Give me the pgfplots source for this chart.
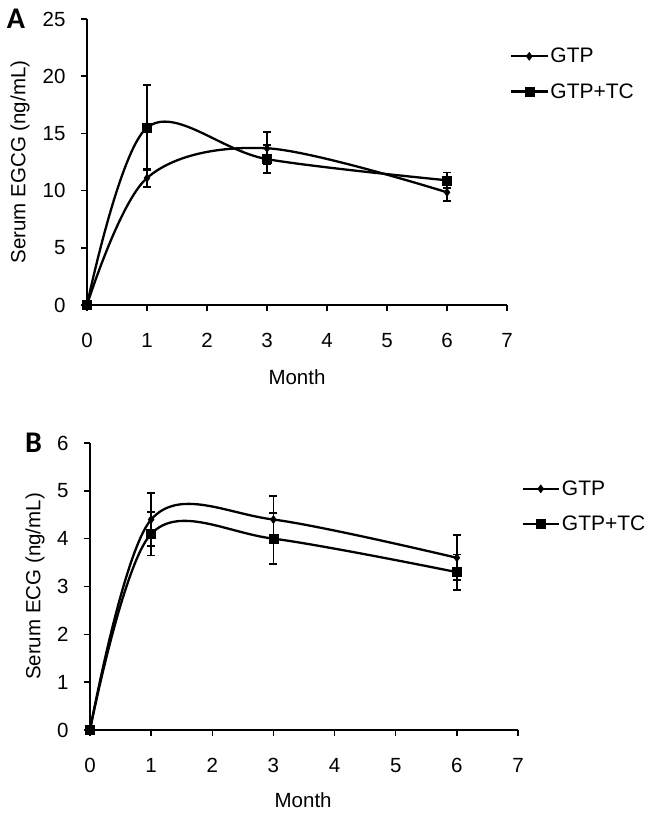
\documentclass[border=0pt]{standalone}
\usepackage{fontspec}
\setmainfont{Liberation Sans}
\newfontfamily\letterfont{Carlito}
\usepackage{pgfplots}
\pgfplotsset{compat=1.18}
\newcommand\lblfont{\fontsize{20.5bp}{24bp}\selectfont}
\begin{document}
\begin{tikzpicture}
\useasboundingbox (0,0) rectangle (653bp,815bp);
\pgfplotsset{
  myaxis/.style={
    scale only axis,
    axis lines*=left,
    axis line style={line width=1.5bp},
    tick style={line width=1.5bp, black},
    major tick length=6bp,
    tick align=outside,
    xmin=0, xmax=7, xtick={0,1,...,7},
    clip=false,
    font=\lblfont,
    label style={font=\lblfont},
    /pgf/number format/assume math mode=true,
    xticklabel={\lblfont\pgfmathprintnumber{\tick}},
    yticklabel={\lblfont\pgfmathprintnumber{\tick}},
    xticklabel style={yshift=-19bp, font=\lblfont},
    yticklabel style={xshift=-12bp, font=\lblfont},
    legend cell align=left,
    legend style={draw=none, fill=none, inner sep=0pt, row sep=15bp,
      nodes={inner sep=2bp},
      font=\fontsize{21bp}{24bp}\selectfont},
    legend image code/.code={
      \draw[mark repeat=2,mark phase=2,#1] plot coordinates {(0bp,0bp)(18bp,0bp)(36bp,0bp)};
    },
  },
  ser/.style={black, line width=2.3bp, smooth, tension=0.55,
      error bars/y dir=both, error bars/y explicit,
      error bars/error bar style={line width=1.8bp, solid},
      error bars/error mark options={rotate=90, mark size=4bp, line width=1.8bp}},
  gtp/.style={ser, mark=diamond*, mark size=4bp, mark options={solid, line width=0.5bp}},
  gtptc/.style={ser, mark=square*, mark size=4.5bp, mark options={solid, line width=0.5bp}},
}
% Panel A
\begin{axis}[myaxis,
  at={(87bp,510bp)}, anchor=south west,
  width=420bp, height=286bp,
  ymin=0, ymax=25, ytick={0,5,...,25},
  xlabel={Month}, ylabel={Serum EGCG (ng/mL)},
  xlabel style={at={(axis description cs:0.5,-0.252)}, anchor=center},
  ylabel style={at={(axis description cs:-0.1595,0.5)}, anchor=center},
  legend style={at={(axis description cs:1.007,0.808)}, anchor=west},
]
\addplot[gtp] coordinates {
  (0,0) +- (0,0)
  (1,11.1) +- (0,0.8)
  (3,13.7) +- (0,1.4)
  (6,9.85) +- (0,0.75)
};
\addlegendentry{GTP}
\addplot[gtptc] coordinates {
  (0,0) +- (0,0)
  (1,15.5) +- (0,3.7)
  (3,12.75) +- (0,1.23)
  (6,10.9) +- (0,0.68)
};
\addlegendentry{GTP+TC}
\end{axis}
% Panel B
\begin{axis}[myaxis,
  at={(90bp,85bp)}, anchor=south west,
  width=428bp, height=287bp,
  ymin=0, ymax=6, ytick={0,1,...,6},
  xlabel={Month}, ylabel={Serum ECG (ng/mL)},
  xlabel style={at={(axis description cs:0.498,-0.244)}, anchor=center},
  ylabel style={at={(axis description cs:-0.1285,0.5)}, anchor=center},
  legend style={at={(axis description cs:1.008,0.779)}, anchor=west},
]
\addplot[gtp] coordinates {
  (0,0) +- (0,0)
  (1,4.4) +- (0,0.55)
  (3,4.4) +- (0,0.5)
  (6,3.6) +- (0,0.47)
};
\addlegendentry{GTP}
\addplot[gtptc] coordinates {
  (0,0) +- (0,0)
  (1,4.1) +- (0,0.45)
  (3,4.0) +- (0,0.53)
  (6,3.3) +- (0,0.37)
};
\addlegendentry{GTP+TC}
\end{axis}
\node[font=\letterfont\bfseries\fontsize{30bp}{32bp}\selectfont, anchor=center] at (16bp,796.5bp) {A};
\node[font=\letterfont\bfseries\fontsize{30bp}{32bp}\selectfont, anchor=center] at (33.5bp,372bp) {B};
\end{tikzpicture}
\end{document}
